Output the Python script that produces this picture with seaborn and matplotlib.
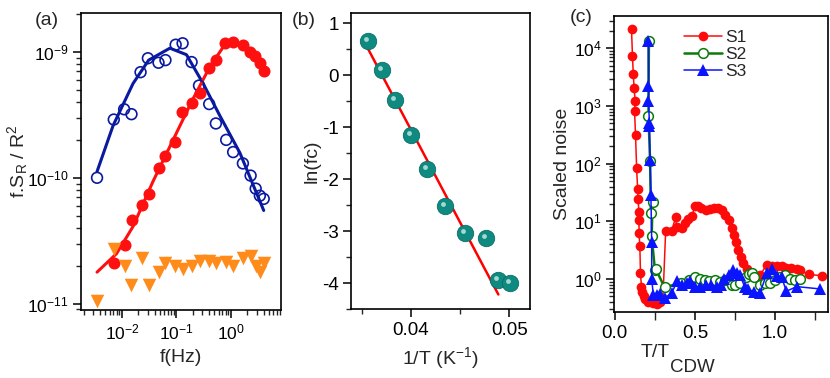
import numpy as np
import pandas as pd
import matplotlib
matplotlib.use("Agg")
import matplotlib.pyplot as plt
import seaborn as sns
from matplotlib.ticker import LogLocator, NullFormatter, MultipleLocator, FixedLocator, FuncFormatter
from matplotlib.lines import Line2D

# ---------------- data: panel (a) ----------------
f_blue = [0.0035, 0.0071, 0.011, 0.015, 0.022, 0.030, 0.047, 0.063, 0.097, 0.13,
          0.19, 0.26, 0.40, 0.53, 0.82, 1.1, 1.66, 2.3, 2.85, 3.4, 4.0]
s_blue = [1.0e-10, 2.9e-10, 3.5e-10, 3.2e-10, 6.9e-10, 8.9e-10, 8.2e-10, 8.6e-10, 1.14e-9, 1.17e-9,
          8.3e-10, 5.4e-10, 3.85e-10, 2.7e-10, 2.0e-10, 1.6e-10, 1.3e-10, 1.04e-10, 8.2e-11, 7.2e-11, 6.8e-11]
f_blue_fit = [0.0035, 0.0069, 0.016, 0.031, 0.076, 0.153, 0.31, 0.63, 1.46, 4.0]
s_blue_fit = [1.12e-10, 2.6e-10, 5.6e-10, 8.6e-10, 1.07e-9, 9.5e-10, 5.6e-10, 3.1e-10, 1.58e-10, 5.5e-11]

f_red = [0.0072, 0.0112, 0.0153, 0.023, 0.031, 0.047, 0.063, 0.094, 0.128, 0.19,
         0.27, 0.40, 0.53, 0.79, 1.1, 1.66, 2.2, 2.8, 3.4, 4.0]
s_red = [2.1e-11, 2.9e-11, 4.6e-11, 6.1e-11, 7.5e-11, 1.2e-10, 1.48e-10, 1.94e-10, 3.3e-10, 3.9e-10,
         4.7e-10, 7.4e-10, 8.6e-10, 1.17e-9, 1.2e-9, 1.14e-9, 1.0e-9, 9.3e-10, 8.1e-10, 7.1e-10]
f_red_fit = [0.0035, 0.0080, 0.016, 0.037, 0.087, 0.20, 0.41, 0.73, 1.1, 1.95, 4.0]
s_red_fit = [1.78e-11, 2.5e-11, 4.1e-11, 9.3e-11, 2.0e-10, 4.2e-10, 7.6e-10, 1.1e-9, 1.2e-9, 1.07e-9, 7.1e-10]

f_orange = [0.0035, 0.0072, 0.0114, 0.015, 0.023, 0.031, 0.047, 0.063, 0.094, 0.13,
            0.19, 0.27, 0.40, 0.53, 0.80, 1.1, 1.66, 2.3, 2.85, 3.4, 4.0]
s_orange = [1.05e-11, 2.7e-11, 2.0e-11, 1.4e-11, 2.3e-11, 1.4e-11, 1.8e-11, 2.1e-11, 2.0e-11, 1.9e-11,
            2.0e-11, 2.2e-11, 2.2e-11, 2.1e-11, 2.15e-11, 2.0e-11, 2.3e-11, 2.4e-11, 2.0e-11, 1.8e-11, 2.1e-11]

# ---------------- data: panel (b) ----------------
invT = [0.03566, 0.03705, 0.0384, 0.0400, 0.04163, 0.04349, 0.04552, 0.04766, 0.04888, 0.05007]
ln_fc = [0.665, 0.11, -0.48, -1.15, -1.80, -2.52, -3.04, -3.13, -3.95, -3.99]
invT_fit = [0.03566, 0.04888]
ln_fc_fit = [0.50, -4.22]

# ---------------- data: panel (c) ----------------
s1_x = [0.104, 0.11, 0.115, 0.12, 0.127, 0.123, 0.129, 0.136, 0.142, 0.145, 0.15, 0.151, 0.151, 0.156,
        0.16, 0.166, 0.172, 0.18, 0.19, 0.21, 0.24, 0.26, 0.28, 0.30, 0.317, 0.354, 0.38, 0.385, 0.417,
        0.44, 0.458, 0.48, 0.50, 0.517, 0.54, 0.57, 0.594, 0.62, 0.646, 0.667, 0.69, 0.71, 0.73, 0.744,
        0.756, 0.77, 0.786, 0.80, 0.823, 0.844, 0.875, 0.906, 0.948, 0.98, 1.01, 1.04, 1.07, 1.10,
        1.135, 1.156, 1.21, 1.29]
s1_logy = [4.33, 3.87, 3.56, 3.32, 3.08, 2.92, 2.50, 1.92, 1.57, 1.39, 1.17, 1.03, 0.80, 0.58,
           0.10, -0.13, -0.23, -0.30, -0.35, -0.39, -0.42, -0.43, -0.39, -0.35, 0.83, 0.84, 1.07, 0.90, 0.88,
           0.97, 1.04, 1.09, 1.26, 1.27, 1.23, 1.20, 1.21, 1.23, 1.23, 1.20, 1.11, 1.03, 0.88, 0.77,
           0.65, 0.51, 0.38, 0.28, 0.17, 0.10, 0.06, 0.07, 0.25, 0.22, 0.22, 0.22, 0.20, 0.19,
           0.17, 0.15, 0.08, 0.06]
s2_x = [0.2125, 0.21, 0.22, 0.225, 0.235, 0.23, 0.25, 0.256, 0.31, 0.41, 0.46, 0.50, 0.53, 0.56,
        0.59, 0.625, 0.656, 0.69, 0.73, 0.75, 0.78, 0.82, 0.84, 0.855, 0.87, 0.906, 0.94, 0.97,
        1.0, 1.03, 1.06, 1.09, 1.125, 1.156]
s2_logy = [4.12, 2.82, 2.04, 1.15, 1.33, 0.74, 0.16, 0.17, -0.14, -0.07, -0.02, 0.03, 0.01, -0.01,
           -0.04, -0.01, -0.05, -0.02, -0.10, -0.10, -0.06, 0.03, 0.08, 0.11, 0.04, -0.10, -0.07, -0.07,
           -0.02, 0.04, 0.07, 0.01, -0.01, 0.01]
s3_x = [0.208, 0.21, 0.21, 0.216, 0.216, 0.22, 0.225, 0.23, 0.23, 0.24, 0.26, 0.28, 0.31, 0.354,
        0.39, 0.42, 0.45, 0.47, 0.50, 0.53, 0.57, 0.60, 0.635, 0.66, 0.68, 0.71, 0.735, 0.76, 0.78,
        0.81, 0.83, 0.87, 0.906, 0.948, 0.98, 1.01, 1.04, 1.07, 1.135, 1.28]
s3_logy = [4.13, 3.34, 3.08, 2.70, 2.66, 2.07, 1.46, 0.65, 0.0, -0.27, -0.27, -0.25, -0.33, -0.24,
           -0.04, -0.10, -0.07, -0.04, -0.13, -0.13, -0.10, -0.10, -0.13, -0.10, 0.0, 0.07, 0.16, 0.10, 0.07,
           -0.13, -0.17, -0.23, -0.24, 0.10, 0.17, 0.06, 0.04, -0.21, -0.13, -0.17]
series_names = ["S1", "S2", "S3"]

# ---------------- style ----------------
sns.set_theme(style="ticks")
plt.rcParams['font.family'] = ['Liberation Sans', 'DejaVu Sans']
plt.rcParams['mathtext.fontset'] = 'custom'
plt.rcParams['mathtext.rm'] = 'Liberation Sans'
plt.rcParams['mathtext.it'] = 'Liberation Sans:italic'
plt.rcParams['mathtext.bf'] = 'Liberation Sans:bold'
plt.rcParams['axes.unicode_minus'] = False
plt.rcParams['axes.linewidth'] = 1.2
plt.rcParams['axes.edgecolor'] = 'black'
FS = 14        # axis labels / panel letters
FT = 13.5      # linear tick labels
FL = 12.5      # log tick labels

fig = plt.figure(figsize=(8.3, 3.78), dpi=100)
axA = fig.add_axes([0.0976, 0.180, 0.241, 0.786])
axB = fig.add_axes([0.4229, 0.1825, 0.2157, 0.783])
axC = fig.add_axes([0.7398, 0.1746, 0.2578, 0.783])

def style_ax(ax, xs=FT, ys=FT):
    for s in ax.spines.values():
        s.set_visible(True)
        s.set_color('black')
        s.set_linewidth(1.2)
    ax.tick_params(which='major', direction='out', length=6, width=1.1, colors='black',
                   left=True, bottom=True, right=False, top=False, pad=3)
    ax.tick_params(which='minor', direction='out', length=3.5, width=1.0, left=True, bottom=True,
                   right=False, top=False)
    ax.tick_params(axis='x', labelsize=xs)
    ax.tick_params(axis='y', labelsize=ys)

def log_fmt(v, p):
    e = int(round(np.log10(v)))
    return r'$10^{%d}$' % e

# ---------------- panel (a) ----------------
red = '#ff1010'
navy = '#0a1aa0'
orange = '#ff8c1a'
axA.set_xscale('log')
axA.set_yscale('log')
sns.lineplot(x=f_blue_fit, y=s_blue_fit, ax=axA, color=navy, lw=2.2, sort=False, estimator=None)
sns.lineplot(x=f_red_fit, y=s_red_fit, ax=axA, color=red, lw=2.2, sort=False, estimator=None)
sns.scatterplot(x=f_blue, y=s_blue, ax=axA, marker='o', s=60, facecolor='none', edgecolor=navy,
                linewidth=1.2, zorder=3)
sns.scatterplot(x=f_red, y=s_red, ax=axA, marker='o', s=75, color=red, edgecolor=red, linewidth=0, zorder=3)
sns.scatterplot(x=f_orange, y=s_orange, ax=axA, marker='v', s=95, color=orange, edgecolor=orange,
                linewidth=0, zorder=3)
axA.set_xlim(10**-2.75, 10**0.92)
axA.set_ylim(10**-11.05, 10**-8.69)
style_ax(axA, FL, FL)
axA.xaxis.set_major_locator(FixedLocator([1e-2, 1e-1, 1e0]))
axA.xaxis.set_minor_locator(LogLocator(base=10, subs=np.arange(2, 10), numticks=20))
axA.yaxis.set_major_locator(FixedLocator([1e-11, 1e-10, 1e-9]))
axA.yaxis.set_minor_locator(LogLocator(base=10, subs=np.arange(2, 10), numticks=20))
axA.xaxis.set_major_formatter(FuncFormatter(log_fmt))
axA.yaxis.set_major_formatter(FuncFormatter(log_fmt))
axA.xaxis.set_minor_formatter(NullFormatter())
axA.yaxis.set_minor_formatter(NullFormatter())
axA.set_xlabel('f(Hz)', fontsize=FS, labelpad=5)
axA.set_ylabel(r'f.S$_{\rm R}$ / R$^{2}$', fontsize=FS)
axA.yaxis.set_label_coords(-0.255, 0.5)
fig.text(0.042, 0.945, '(a)', fontsize=FS, ha='left', va='center')

# ---------------- panel (b) ----------------
teal = '#0e8a80'
sns.lineplot(x=invT_fit, y=ln_fc_fit, ax=axB, color='#ff0000', lw=1.8, sort=False, estimator=None, zorder=2)
sns.scatterplot(x=invT, y=ln_fc, ax=axB, marker='o', s=140, color=teal, edgecolor='#0a6e66', linewidth=0.6,
                zorder=3)
hl = pd.DataFrame({'x': invT, 'y': ln_fc})
axB.scatter(hl['x'], hl['y'], s=12, color='#bfe6e0', linewidth=0, zorder=4, alpha=0.85,
            transform=axB.transData + matplotlib.transforms.ScaledTranslation(-2/100, 2/100, fig.dpi_scale_trans))
axB.set_xlim(0.0339, 0.0521)
axB.set_ylim(-4.5, 1.2)
style_ax(axB)
axB.xaxis.set_major_locator(FixedLocator([0.04, 0.05]))
axB.xaxis.set_minor_locator(FixedLocator([0.035, 0.045]))
axB.yaxis.set_major_locator(MultipleLocator(1))
axB.yaxis.set_minor_locator(MultipleLocator(0.5))
axB.xaxis.set_major_formatter(FuncFormatter(lambda v, p: f'{v:.2f}'))
axB.yaxis.set_major_formatter(FuncFormatter(lambda v, p: f'{v:.0f}'))
axB.set_xlabel(r'1/T (K$^{-1}$)', fontsize=FS, labelpad=5)
axB.set_ylabel('ln(fc)', fontsize=FS, labelpad=1)
fig.text(0.352, 0.945, '(b)', fontsize=FS, ha='left', va='center')

# ---------------- panel (c) ----------------
axC.set_yscale('log')
c1, c2, c3 = '#ff0a0a', '#0a7a0a', '#0a14ff'
s1_y = [10**v for v in s1_logy]
s2_y = [10**v for v in s2_logy]
s3_y = [10**v for v in s3_logy]
sns.lineplot(x=s1_x, y=s1_y, ax=axC, color=c1, lw=1.1, sort=False, estimator=None,
             marker='o', markersize=7, markerfacecolor=c1, markeredgecolor=c1, markeredgewidth=0, zorder=2)
sns.lineplot(x=s2_x, y=s2_y, ax=axC, color=c2, lw=1.8, sort=False, estimator=None,
             marker='o', markersize=7, markerfacecolor='white', markeredgecolor=c2, markeredgewidth=1.1, zorder=3)
sns.lineplot(x=s3_x, y=s3_y, ax=axC, color=c3, lw=1.1, sort=False, estimator=None,
             marker='^', markersize=8, markerfacecolor=c3, markeredgecolor=c3, markeredgewidth=0, zorder=4)
axC.set_xlim(-0.005, 1.33)
axC.set_ylim(10**-0.57, 10**4.56)
style_ax(axC, FT, FL)
axC.yaxis.set_major_locator(FixedLocator([1e0, 1e1, 1e2, 1e3, 1e4]))
axC.yaxis.set_minor_locator(LogLocator(base=10, subs=np.arange(2, 10), numticks=20))
axC.yaxis.set_major_formatter(FuncFormatter(log_fmt))
axC.yaxis.set_minor_formatter(NullFormatter())
axC.xaxis.set_major_locator(MultipleLocator(0.5))
axC.xaxis.set_minor_locator(MultipleLocator(0.25))
axC.tick_params(axis='x', which='minor', length=6)
axC.xaxis.set_major_formatter(FuncFormatter(lambda v, p: f'{v:.1f}'))
axC.set_ylabel('Scaled noise', fontsize=FS, labelpad=2)
# x label with large subscript, as in the reference
fig.text(0.772, 0.068, 'T/T', fontsize=FS, ha='left', va='center')
fig.text(0.8075, 0.029, 'CDW', fontsize=FS - 0.5, ha='left', va='center')
handles = [
    Line2D([], [], color=c1, lw=1.1, marker='o', markersize=7, mfc=c1, mec=c1, mew=0),
    Line2D([], [], color=c2, lw=1.8, marker='o', markersize=7, mfc='white', mec=c2, mew=1.1),
    Line2D([], [], color=c3, lw=1.1, marker='^', markersize=8, mfc=c3, mec=c3, mew=0),
]
axC.legend(handles, series_names, loc='upper left', bbox_to_anchor=(0.26, 1.0), frameon=False,
           fontsize=FS - 1.5, handlelength=2.2, handletextpad=0.2, labelspacing=0.1, borderaxespad=0.4)
fig.text(0.687, 0.955, '(c)', fontsize=FS, ha='left', va='center')

fig.savefig('out.png', dpi=100)
